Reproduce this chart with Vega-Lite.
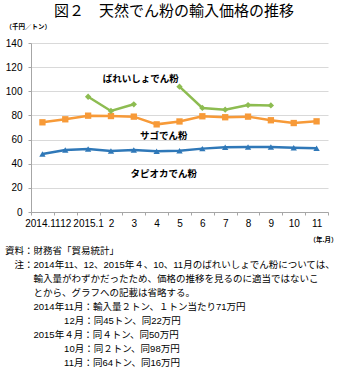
{
  "$schema": "https://vega.github.io/schema/vega-lite/v6.json",
  "padding": {"left": 5, "top": 4, "right": 5, "bottom": 0},
  "config": {
    "view": {"stroke": null},
    "axis": {"labelFont": "Liberation Sans", "labelFontSize": 10, "labelColor": "#000", "domainColor": "#a6a6a6", "tickColor": "#a6a6a6", "gridColor": "#d9d9d9", "tickSize": 3}
  },
  "title": {"text": "図２　天然でん粉の輸入価格の推移", "font": "Noto Sans CJK JP", "fontSize": 15, "fontWeight": "normal", "color": "#000", "anchor": "middle", "offset": 4, "dx": 3},
  "vconcat": [
    {
      "width": 297,
      "height": 169,
      "title": {
        "text": [
          "資料：財務省「貿易統計」",
          "\u200b　注：2014年11、12、2015年４、10、11月のばれいしょでん粉については、",
          "\u200b　　　輸入量がわずかだったため、価格の推移を見るのに適当ではないこ",
          "\u200b　　　とから、グラフへの記載は省略する。",
          "\u200b　　　2014年11月：輸入量２トン、１トン当たり71万円",
          "\u200b　　　\u00a0\u00a0\u00a0\u00a0\u00a0\u00a0\u00a0\u00a0　12月：同45トン、同22万円",
          "\u200b　　　2015年４月：同４トン、同50万円",
          "\u200b　　　\u00a0\u00a0\u00a0\u00a0\u00a0\u00a0\u00a0\u00a0　10月：同２トン、同98万円",
          "\u200b　　　\u00a0\u00a0\u00a0\u00a0\u00a0\u00a0\u00a0\u00a0　11月：同64トン、同16万円"
        ],
        "orient": "bottom",
        "anchor": "start",
        "frame": "group",
        "dx": -26,
        "offset": 3,
        "font": "Liberation Sans, Noto Sans CJK JP",
        "fontSize": 9.5,
        "fontWeight": "normal",
        "lineHeight": 14.1,
        "color": "#000",
        "baseline": "top"
      },
      "data": {"values": [
        {"series": "タピオカでん粉", "seg": "t", "ym": "2014.11", "value": 48.0},
        {"series": "タピオカでん粉", "seg": "t", "ym": "2014.12", "value": 51.4},
        {"series": "タピオカでん粉", "seg": "t", "ym": "2015.1", "value": 52.2},
        {"series": "タピオカでん粉", "seg": "t", "ym": "2015.2", "value": 50.6},
        {"series": "タピオカでん粉", "seg": "t", "ym": "2015.3", "value": 51.4},
        {"series": "タピオカでん粉", "seg": "t", "ym": "2015.4", "value": 50.3},
        {"series": "タピオカでん粉", "seg": "t", "ym": "2015.5", "value": 50.8},
        {"series": "タピオカでん粉", "seg": "t", "ym": "2015.6", "value": 52.5},
        {"series": "タピオカでん粉", "seg": "t", "ym": "2015.7", "value": 53.6},
        {"series": "タピオカでん粉", "seg": "t", "ym": "2015.8", "value": 53.9},
        {"series": "タピオカでん粉", "seg": "t", "ym": "2015.9", "value": 53.9},
        {"series": "タピオカでん粉", "seg": "t", "ym": "2015.10", "value": 53.3},
        {"series": "タピオカでん粉", "seg": "t", "ym": "2015.11", "value": 52.8},
        {"series": "サゴでん粉", "seg": "s", "ym": "2014.11", "value": 74.3},
        {"series": "サゴでん粉", "seg": "s", "ym": "2014.12", "value": 76.8},
        {"series": "サゴでん粉", "seg": "s", "ym": "2015.1", "value": 79.8},
        {"series": "サゴでん粉", "seg": "s", "ym": "2015.2", "value": 79.5},
        {"series": "サゴでん粉", "seg": "s", "ym": "2015.3", "value": 79.0},
        {"series": "サゴでん粉", "seg": "s", "ym": "2015.4", "value": 72.6},
        {"series": "サゴでん粉", "seg": "s", "ym": "2015.5", "value": 75.0},
        {"series": "サゴでん粉", "seg": "s", "ym": "2015.6", "value": 79.3},
        {"series": "サゴでん粉", "seg": "s", "ym": "2015.7", "value": 78.5},
        {"series": "サゴでん粉", "seg": "s", "ym": "2015.8", "value": 79.0},
        {"series": "サゴでん粉", "seg": "s", "ym": "2015.9", "value": 76.0},
        {"series": "サゴでん粉", "seg": "s", "ym": "2015.10", "value": 73.7},
        {"series": "サゴでん粉", "seg": "s", "ym": "2015.11", "value": 75.1},
        {"series": "ばれいしょでん粉", "seg": "p1", "ym": "2015.1", "value": 95.5},
        {"series": "ばれいしょでん粉", "seg": "p1", "ym": "2015.2", "value": 83.7},
        {"series": "ばれいしょでん粉", "seg": "p1", "ym": "2015.3", "value": 89.2},
        {"series": "ばれいしょでん粉", "seg": "p2", "ym": "2015.5", "value": 103.8},
        {"series": "ばれいしょでん粉", "seg": "p2", "ym": "2015.6", "value": 86.2},
        {"series": "ばれいしょでん粉", "seg": "p2", "ym": "2015.7", "value": 84.8},
        {"series": "ばれいしょでん粉", "seg": "p2", "ym": "2015.8", "value": 88.6},
        {"series": "ばれいしょでん粉", "seg": "p2", "ym": "2015.9", "value": 88.3}
      ]},
      "encoding": {
        "x": {
          "field": "ym", "type": "ordinal",
          "scale": {"type": "band", "paddingInner": 0, "paddingOuter": 0,
            "domain": ["2014.11", "2014.12", "2015.1", "2015.2", "2015.3", "2015.4", "2015.5", "2015.6", "2015.7", "2015.8", "2015.9", "2015.10", "2015.11"]},
          "axis": {
            "title": "（年.月）", "titleFont": "Noto Sans CJK JP", "titleFontSize": 6.5, "titleFontWeight": "bold", "titleColor": "#000",
            "titleX": 306, "titleY": 27, "titleAlign": "right", "titleBaseline": "middle", "titleAnchor": null,
            "grid": false, "tickBand": "extent", "labelAngle": 0, "labelOverlap": false, "labelPadding": 3,
            "labelExpr": "datum.value == '2014.11' || datum.value == '2015.1' ? datum.value : split(datum.value, '.')[1]"
          }
        },
        "y": {
          "field": "value", "type": "quantitative",
          "scale": {"domain": [0, 140], "nice": false, "zero": true},
          "axis": {
            "values": [0, 20, 40, 60, 80, 100, 120, 140], "grid": true, "labelPadding": 6,
            "title": "（千円／トン）", "titleFont": "Noto Sans CJK JP", "titleFontSize": 6.5, "titleFontWeight": "bold", "titleColor": "#000",
            "titleAngle": 0, "titleAlign": "left", "titleBaseline": "middle", "titleX": -26, "titleY": -17
          }
        }
      },
      "layer": [
        {
          "mark": {"type": "line", "strokeWidth": 2.5},
          "encoding": {
            "color": {"field": "series", "type": "nominal", "legend": null,
              "scale": {"domain": ["ばれいしょでん粉", "サゴでん粉", "タピオカでん粉"], "range": ["#8dbc51", "#f79a38", "#2f78b8"]}},
            "detail": {"field": "seg", "type": "nominal"}
          }
        },
        {
          "mark": {"type": "point", "filled": true, "size": 40, "opacity": 1},
          "encoding": {
            "color": {"field": "series", "type": "nominal", "legend": null},
            "shape": {"field": "series", "type": "nominal", "legend": null,
              "scale": {"domain": ["ばれいしょでん粉", "サゴでん粉", "タピオカでん粉"], "range": ["diamond", "square", "triangle-up"]}}
          }
        },
        {
          "data": {"values": [
            {"ym": "2015.3", "value": 110.2, "label": "ばれいしょでん粉"},
            {"ym": "2015.4", "value": 63.0, "label": "サゴでん粉"},
            {"ym": "2015.4", "value": 31.5, "label": "タピオカでん粉"}
          ]},
          "mark": {"type": "text", "align": "center", "baseline": "middle", "dx": 7, "font": "Noto Sans CJK JP", "fontSize": 9.5, "fontWeight": "bold", "color": "#000"},
          "encoding": {"text": {"field": "label", "type": "nominal"}}
        }
      ]
    }
  ]
}
